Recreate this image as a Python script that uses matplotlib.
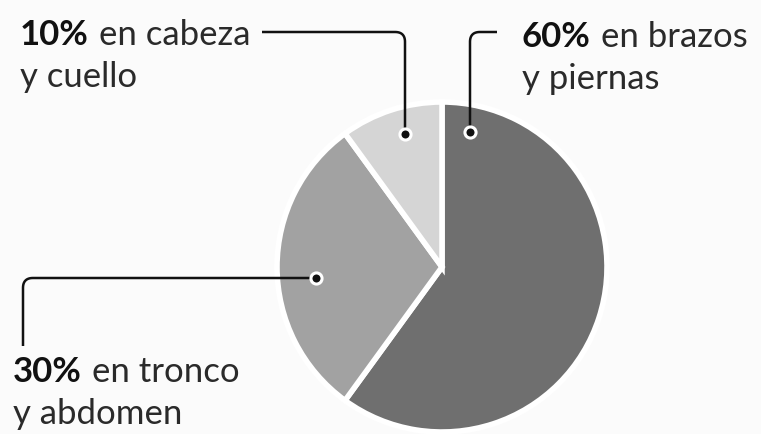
import numpy as np
import matplotlib
matplotlib.use("Agg")
import matplotlib.pyplot as plt

# datos del gráfico
partes = ["en brazos\ny piernas", "en tronco\ny abdomen", "en cabeza\ny cuello"]
porcentajes = [60, 30, 10]
colores = ["#6f6f6f", "#a2a2a2", "#d5d5d5"]

W, H = 761, 435
fig = plt.figure(figsize=(W / 100, H / 100), dpi=100)
fig.patch.set_facecolor("#fbfbfb")
ax = fig.add_axes([0, 0, 1, 1])

# la tarta (centro y radio en pixeles, y hacia arriba)
cx, cy, r = 442, H - 268, 165
ax.pie(porcentajes, colors=colores, startangle=90, counterclock=False,
       center=(cx, cy), radius=r, frame=True,
       wedgeprops=dict(edgecolor="white", linewidth=4))
ax.set_xlim(0, W)
ax.set_ylim(0, H)
ax.set_aspect("equal")
ax.axis("off")


def linea(puntos, rad=10):
    # polilinea con una esquina redondeada
    (x0, y0), (x1, y1), (x2, y2) = puntos
    d1 = np.sign([x1 - x0, y1 - y0])
    d2 = np.sign([x2 - x1, y2 - y1])
    a = (x1 - d1[0] * rad, y1 - d1[1] * rad)
    b = (x1 + d2[0] * rad, y1 + d2[1] * rad)
    t = np.linspace(0, 1, 20)
    qx = (1 - t) ** 2 * a[0] + 2 * (1 - t) * t * x1 + t ** 2 * b[0]
    qy = (1 - t) ** 2 * a[1] + 2 * (1 - t) * t * y1 + t ** 2 * b[1]
    xs = [x0] + list(qx) + [x2]
    ys = [y0] + list(qy) + [y2]
    ax.plot(xs, ys, color="#111111", lw=1.8, solid_capstyle="butt", zorder=5)
    ax.plot([x2], [y2], "o", ms=8, color="#111111", mec="white", mew=2.2, zorder=6)


fam = ["Lato", "DejaVu Sans"]
fs = 25
fig.canvas.draw()
ren = fig.canvas.get_renderer()


def etiqueta(x, y, pct, texto):
    t1 = ax.text(x, y, f"{pct}%", fontsize=fs, fontweight="bold", family=fam,
                 color="#111111", va="baseline", ha="left")
    bb = t1.get_window_extent(renderer=ren)
    x_fin = ax.transData.inverted().transform((bb.x1, 0))[0]
    l1, l2 = texto.split("\n")
    ax.text(x_fin + 10, y, l1, fontsize=fs, family=fam, color="#2a2a2a",
            va="baseline", ha="left")
    ax.text(x, y - 42, l2, fontsize=fs, family=fam, color="#2a2a2a",
            va="baseline", ha="left")


# 10% cabeza
etiqueta(20, H - 45, porcentajes[2], partes[2])
linea([(262, H - 33), (405, H - 33), (405, H - 135)])

# 60% brazos
etiqueta(522, H - 47, porcentajes[0], partes[0])
linea([(497, H - 33), (470, H - 33), (470, H - 133)])

# 30% tronco
etiqueta(13, H - 382, porcentajes[1], partes[1])
linea([(23, H - 347), (23, H - 279), (316, H - 279)])

fig.savefig("out.png", dpi=100, facecolor=fig.get_facecolor())
